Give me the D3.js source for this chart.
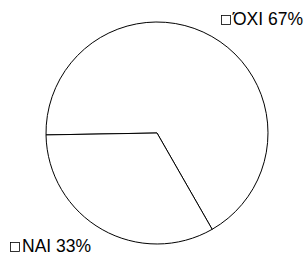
<!DOCTYPE html>
<html>
<head>
<meta charset="utf-8">
<script src="https://cdn.jsdelivr.net/npm/d3@7"></script>
<style>
  html, body { margin: 0; padding: 0; background: #fff; }
  svg text { font-family: "Liberation Sans", Arial, sans-serif; font-size: 17.5px; fill: #000; }
</style>
</head>
<body>
<div id="chart"></div>
<script>
const categories = ['ΌΧΙ', 'ΝΑΙ'];
const values = [67, 33];

const dimensions = {
  width: 306,
  height: 254,
  cx: 157,
  cy: 133,
  radius: 111
};

const svg = d3.select('#chart')
  .append('svg')
  .attr('width', dimensions.width)
  .attr('height', dimensions.height);

const data = categories.map((c, i) => ({ name: c, value: values[i] }));

// first slice starts just left of 12 o'clock, as in the original
const pie = d3.pie()
  .sort(null)
  .value(d => d.value)
  .startAngle(-91 * Math.PI / 180)
  .endAngle(269 * Math.PI / 180);

const arc = d3.arc()
  .innerRadius(0)
  .outerRadius(dimensions.radius);

const ctr = svg.append('g')
  .attr('transform', `translate(${dimensions.cx}, ${dimensions.cy})`);

ctr.selectAll('path')
  .data(pie(data))
  .join('path')
  .attr('d', arc)
  .attr('fill', '#fff')
  .attr('stroke', '#000')
  .attr('stroke-width', 1);

// labels with their little legend boxes
const labelPos = [
  { x: 221, y: 25 },
  { x: 10, y: 252 }
];

const labels = svg.selectAll('g.label')
  .data(data)
  .join('g')
  .attr('class', 'label')
  .attr('transform', (d, i) => `translate(${labelPos[i].x}, ${labelPos[i].y})`);

labels.append('rect')
  .attr('x', 0.5)
  .attr('y', -9.5)
  .attr('width', 9)
  .attr('height', 9)
  .attr('fill', '#fff')
  .attr('stroke', '#000')
  .attr('stroke-width', 0.8);

labels.append('text')
  .attr('x', (d, i) => i === 0 ? 12 : 12)
  .attr('y', 0)
  .text(d => `${d.name} ${d.value}%`);
</script>
</body>
</html>
